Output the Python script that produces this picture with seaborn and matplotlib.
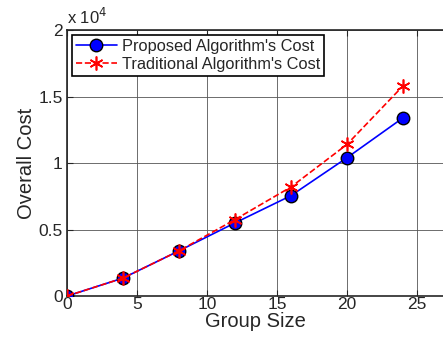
import matplotlib
matplotlib.use("Agg")
import matplotlib.pyplot as plt
import pandas as pd
import seaborn as sns

group_size = [0, 4, 8, 12, 16, 20, 24]
proposed_cost = [0, 1350, 3400, 5500, 7550, 10400, 13400]
traditional_cost = [0, 1350, 3400, 5750, 8200, 11400, 15800]

sns.set_style("ticks")
plt.rcParams['font.family'] = ['Liberation Sans', 'DejaVu Sans']

df = pd.DataFrame({
    'Group Size': group_size * 2,
    'Overall Cost': [v / 1e4 for v in proposed_cost + traditional_cost],
    'Series': ["Proposed Algorithm's Cost"] * 7 + ["Traditional Algorithm's Cost"] * 7,
})

fig = plt.figure(figsize=(4.43, 3.38), dpi=100)
ax = fig.add_axes([0.151, 0.124, 0.849, 0.787])

prop = df[df['Series'] == "Proposed Algorithm's Cost"]
trad = df[df['Series'] == "Traditional Algorithm's Cost"]
sns.lineplot(data=prop, x='Group Size', y='Overall Cost', ax=ax, color='blue',
             marker='o', markersize=9, markerfacecolor='blue', markeredgecolor='black',
             markeredgewidth=1.0, linewidth=1.2, label="Proposed Algorithm's Cost", zorder=3)
sns.lineplot(data=trad, x='Group Size', y='Overall Cost', ax=ax, color='red',
             marker=(6, 2, 0), markersize=10, markeredgecolor='red', markeredgewidth=1.2,
             linewidth=1.2, linestyle='--', label="Traditional Algorithm's Cost", zorder=4)

ax.set_xlim(0, 26.86)
ax.set_ylim(0, 2)
ax.set_xticks([0, 5, 10, 15, 20, 25])
ax.set_yticks([0, 0.5, 1, 1.5, 2])
ax.set_yticklabels(['0', '0.5', '1', '1.5', '2'])
ax.grid(True, color='#555555', linewidth=0.6)
ax.tick_params(direction='in', top=True, labelsize=12.5, length=4)
ax.tick_params(axis='x', pad=1)
ax.tick_params(axis='y', pad=3)
for s in ['top', 'left', 'bottom']:
    ax.spines[s].set_linewidth(1.2)
ax.spines['right'].set_visible(False)

ax.set_xlabel('Group Size', fontsize=14.5, labelpad=0)
ax.set_ylabel('Overall Cost', fontsize=14.5, labelpad=2)
ax.text(0.0, 1.01, r'x 10$^4$', transform=ax.transAxes, fontsize=12, ha='left', va='bottom')

leg = ax.legend(loc='upper left', fontsize=11.8, frameon=True, fancybox=False,
                edgecolor='black', borderpad=0.25, labelspacing=0.15, handlelength=2.5,
                borderaxespad=0.3, handletextpad=0.3)
leg.get_frame().set_linewidth(1.2)
leg.get_frame().set_alpha(1)

fig.savefig('out.png', dpi=100)
